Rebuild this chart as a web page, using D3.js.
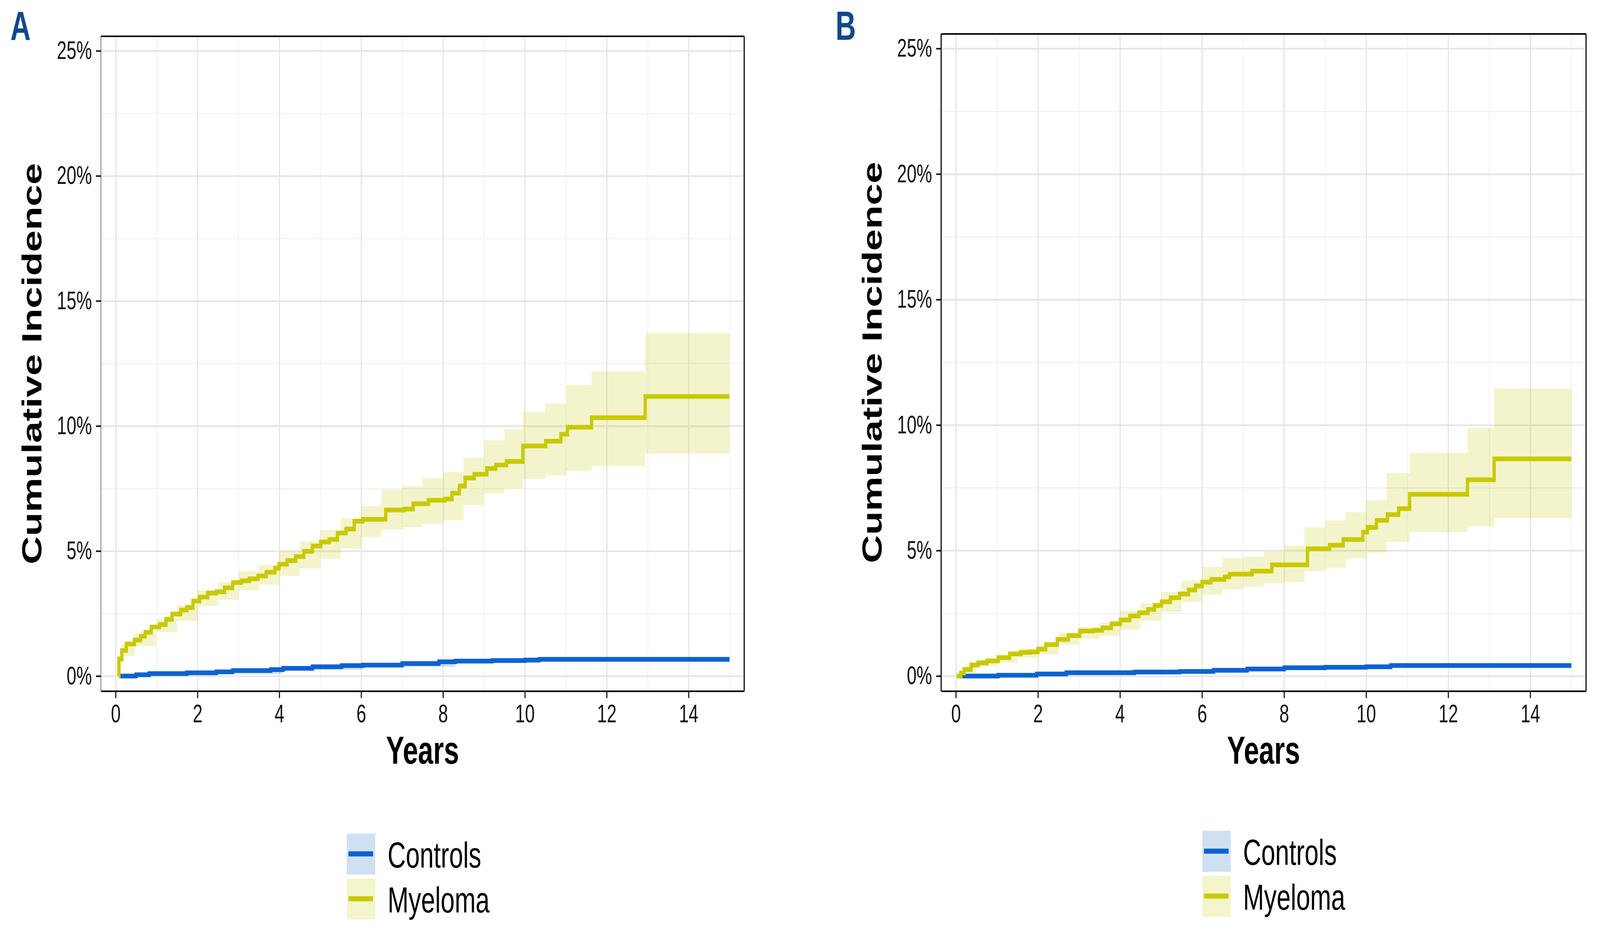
<!DOCTYPE html>
<html>
<head>
<meta charset="utf-8">
<script src="https://cdn.jsdelivr.net/npm/d3@7"></script>
<style>
  html, body { margin: 0; padding: 0; background: #fff; overflow: hidden; }
  #chart svg { display: block; width: 100vw; height: 100vh; }
  svg text { font-family: "Liberation Sans", Arial, Helvetica, sans-serif; }
</style>
</head>
<body>
<div id="chart"></div>
<script>
// ---- data (years, cumulative incidence in %) ----
// panel A: step curves [time, value]
const myelomaA = [
  [0.077, 0], [0.08, 0.68], [0.15, 1.02], [0.26, 1.28], [0.46, 1.44], [0.61, 1.59],
  [0.72, 1.75], [0.87, 1.96], [1.07, 2.06], [1.23, 2.27], [1.38, 2.48], [1.59, 2.64],
  [1.74, 2.74], [1.89, 3.0], [2.05, 3.16], [2.25, 3.32], [2.46, 3.37], [2.66, 3.53],
  [2.86, 3.74], [3.07, 3.81], [3.27, 3.89], [3.48, 4.0], [3.68, 4.15], [3.89, 4.31],
  [3.99, 4.47], [4.19, 4.62], [4.4, 4.78], [4.6, 4.99], [4.81, 5.2], [5.01, 5.36],
  [5.22, 5.46], [5.42, 5.72], [5.63, 5.88], [5.83, 6.19], [6.04, 6.27], [6.6, 6.64],
  [7.05, 6.68], [7.27, 6.89], [7.64, 7.03], [8.05, 7.08], [8.22, 7.31], [8.4, 7.6],
  [8.54, 7.92], [8.76, 8.07], [9.07, 8.3], [9.29, 8.44], [9.55, 8.58], [9.95, 9.2],
  [10.51, 9.39], [10.88, 9.67], [11.04, 9.95], [11.63, 10.33], [12.94, 11.18], [15.0, 11.18]
];
// confidence band [time, lower, upper]
const myelomaBandA = [
  [0.077, 0, 0], [0.08, 0.5, 0.9], [0.15, 0.8, 1.25], [0.46, 1.2, 1.7], [1.0, 1.75, 2.3],
  [1.5, 2.2, 2.85], [2.0, 2.8, 3.42], [2.5, 3.05, 3.75], [3.0, 3.42, 4.2], [3.5, 3.65, 4.45],
  [4.0, 4.0, 4.99], [4.5, 4.3, 5.4], [5.0, 4.68, 5.83], [5.5, 5.1, 6.3], [6.0, 5.56, 6.8],
  [6.5, 5.85, 7.45], [7.0, 5.95, 7.6], [7.5, 6.08, 7.92], [8.0, 6.23, 8.16], [8.5, 6.84, 8.73],
  [9.0, 7.31, 9.43], [9.5, 7.5, 9.86], [9.95, 7.88, 10.57], [10.5, 8.02, 10.9],
  [11.01, 8.2, 11.64], [11.63, 8.4, 12.18], [12.94, 8.9, 13.72], [15.0, 8.9, 13.72]
];
const controlsA = [
  [0.08, 0], [0.5, 0.05], [0.82, 0.1], [1.74, 0.13], [2.46, 0.17], [2.86, 0.22],
  [3.79, 0.26], [4.09, 0.31], [4.81, 0.37], [5.52, 0.42], [6.04, 0.44], [7.0, 0.5],
  [7.9, 0.57], [8.3, 0.6], [9.2, 0.62], [10.0, 0.64], [10.35, 0.67], [15.0, 0.67]
];
const controlsBandA = [
  [0.08, 0, 0.02], [1.74, 0.09, 0.17], [4.09, 0.25, 0.37], [6.04, 0.37, 0.51],
  [8.3, 0.52, 0.69], [10.35, 0.58, 0.77], [15.0, 0.58, 0.77]
];

// panel B
const myelomaB = [
  [0.02, 0], [0.12, 0.12], [0.2, 0.26], [0.37, 0.44], [0.54, 0.52], [0.76, 0.6], [1.03, 0.73],
  [1.31, 0.88], [1.58, 0.94], [1.81, 0.96], [2.0, 1.07], [2.19, 1.25], [2.47, 1.46],
  [2.74, 1.61], [3.02, 1.79], [3.35, 1.82], [3.57, 1.92], [3.79, 2.08], [4.01, 2.23],
  [4.24, 2.39], [4.46, 2.52], [4.68, 2.65], [4.84, 2.81], [5.01, 2.96], [5.23, 3.12],
  [5.45, 3.27], [5.67, 3.43], [5.84, 3.59], [6.0, 3.74], [6.22, 3.85], [6.55, 3.95],
  [6.67, 4.06], [7.22, 4.18], [7.7, 4.43], [8.57, 5.07], [9.11, 5.21], [9.44, 5.44],
  [9.92, 5.73], [10.03, 5.92], [10.25, 6.2], [10.52, 6.43], [10.79, 6.67], [11.06, 7.24],
  [12.47, 7.82], [13.12, 8.65], [15.0, 8.65]
];
const myelomaBandB = [
  [0.02, 0, 0], [0.2, 0.12, 0.4], [0.5, 0.39, 0.66], [1.0, 0.52, 0.85], [1.5, 0.74, 1.1],
  [2.0, 0.86, 1.25], [2.5, 1.25, 1.72], [3.0, 1.48, 1.95], [3.5, 1.6, 2.12], [4.0, 1.85, 2.6],
  [4.5, 2.2, 2.9], [5.0, 2.55, 3.35], [5.5, 2.95, 3.8], [6.0, 3.25, 4.35], [6.5, 3.45, 4.7],
  [7.0, 3.55, 4.75], [7.5, 3.7, 4.95], [8.0, 3.75, 5.2], [8.5, 4.17, 5.92], [9.0, 4.31, 6.2],
  [9.5, 4.69, 6.53], [10.0, 4.92, 7.0], [10.5, 5.35, 8.08], [11.06, 5.73, 8.89],
  [12.47, 5.96, 9.88], [13.12, 6.29, 11.45], [15.0, 6.29, 11.45]
];
const controlsB = [
  [0.1, 0], [1.03, 0.03], [1.97, 0.08], [2.69, 0.13], [4.35, 0.16], [5.45, 0.18],
  [6.28, 0.23], [7.1, 0.28], [8.0, 0.33], [9.0, 0.35], [10.0, 0.37], [10.6, 0.42], [15.0, 0.42]
];
const controlsBandB = [
  [0.1, 0, 0.02], [1.97, 0.05, 0.11], [4.35, 0.12, 0.2], [6.28, 0.18, 0.28],
  [8.0, 0.27, 0.39], [10.6, 0.35, 0.5], [15.0, 0.35, 0.5]
];

// axes / labels
const xTicks = [0, 2, 4, 6, 8, 10, 12, 14];
const xMinor = [1, 3, 5, 7, 9, 11, 13, 15];
const yTicks = [0, 5, 10, 15, 20, 25];
const yMinor = [2.5, 7.5, 12.5, 17.5, 22.5];
const groups = ["Controls", "Myeloma"];
const colors = { Controls: "#0b62d1", Myeloma: "#c9c900" };
const fills = { Controls: "#d0e0f3", Myeloma: "#f5f5cc" };

const xDomain = [-0.36, 15.36];
const yDomain = [-0.6, 25.58];

// figure drawn in 5850x2405 units, stretched to fill the window exactly
const svg = d3.select("#chart").append("svg")
  .attr("viewBox", "0 0 5850 2405")
  .attr("preserveAspectRatio", "none");

// panel boxes (pixels)
const panels = [
  { tag: "A", left: 369, right: 2721, top: 93, bottom: 1770, leftEdge: "#666", leftW: 2.5,
    tagX: 38, legX: 1268, legY: 2135,
    myeloma: myelomaA, myelomaBand: myelomaBandA, controls: controlsA, controlsBand: controlsBandA },
  { tag: "B", left: 3441, right: 5799, top: 87, bottom: 1770, leftEdge: "#000", leftW: 4,
    tagX: 3055, legX: 4396, legY: 2128,
    myeloma: myelomaB, myelomaBand: myelomaBandB, controls: controlsB, controlsBand: controlsBandB }
];

function gridCall(sel, color, width) {
  sel.select(".domain").remove();
  sel.selectAll("text").remove();
  sel.selectAll("line").attr("stroke", color).attr("stroke-width", width);
}

function drawPanel(p) {
  const g = svg.append("g");
  const x = d3.scaleLinear().domain(xDomain).range([p.left, p.right]);
  const y = d3.scaleLinear().domain(yDomain).range([p.bottom, p.top]);
  const h = p.bottom - p.top, w = p.right - p.left;

  // grid lines (minor first)
  g.append("g").attr("transform", `translate(0,${p.bottom})`)
    .call(d3.axisBottom(x).tickValues(xMinor).tickSize(-h))
    .call(s => gridCall(s, "#f1f1f1", 3));
  g.append("g").attr("transform", `translate(${p.left},0)`)
    .call(d3.axisLeft(y).tickValues(yMinor).tickSize(-w))
    .call(s => gridCall(s, "#f1f1f1", 3));
  g.append("g").attr("transform", `translate(0,${p.bottom})`)
    .call(d3.axisBottom(x).tickValues(xTicks).tickSize(-h))
    .call(s => gridCall(s, "#e6e6e6", 4.5));
  g.append("g").attr("transform", `translate(${p.left},0)`)
    .call(d3.axisLeft(y).tickValues(yTicks).tickSize(-w))
    .call(s => gridCall(s, "#e6e6e6", 4.5));

  // bands then step lines
  const area = d3.area().curve(d3.curveStepAfter)
    .x(d => x(d[0])).y0(d => y(d[1])).y1(d => y(d[2]));
  const line = d3.line().curve(d3.curveStepAfter)
    .x(d => x(d[0])).y(d => y(d[1]));

  g.append("path").datum(p.controlsBand).attr("d", area)
    .attr("fill", colors.Controls).attr("fill-opacity", 0.2);
  g.append("path").datum(p.myelomaBand).attr("d", area)
    .attr("fill", colors.Myeloma).attr("fill-opacity", 0.2);
  g.append("path").datum(p.controls).attr("d", line)
    .attr("fill", "none").attr("stroke", colors.Controls).attr("stroke-width", 12);
  g.append("path").datum(p.myeloma).attr("d", line)
    .attr("fill", "none").attr("stroke", colors.Myeloma).attr("stroke-width", 12);

  // panel border
  g.append("line").attr("x1", p.left).attr("x2", p.right).attr("y1", p.top).attr("y2", p.top)
    .attr("stroke", "#000").attr("stroke-width", 4);
  g.append("line").attr("x1", p.right).attr("x2", p.right).attr("y1", p.top).attr("y2", p.bottom)
    .attr("stroke", "#000").attr("stroke-width", 4);
  g.append("line").attr("x1", p.left).attr("x2", p.left).attr("y1", p.top).attr("y2", p.bottom)
    .attr("stroke", p.leftEdge).attr("stroke-width", p.leftW);

  // axes
  const xAxis = g.append("g").attr("transform", `translate(0,${p.bottom})`)
    .call(d3.axisBottom(x).tickValues(xTicks).tickSize(18).tickPadding(17).tickSizeOuter(0));
  const yAxis = g.append("g").attr("transform", `translate(${p.left},0)`)
    .call(d3.axisLeft(y).tickValues(yTicks).tickSize(18).tickPadding(15).tickSizeOuter(0)
      .tickFormat(d => d + "%"));
  [xAxis, yAxis].forEach(a => {
    a.attr("font-family", null).attr("font-size", null);
    a.selectAll("text").style("font-size", "64px").attr("fill", "#111");
    a.selectAll(".tick line").attr("stroke", "#111").attr("stroke-width", 4);
  });
  xAxis.select(".domain").attr("stroke", "#000").attr("stroke-width", 4);
  yAxis.select(".domain").remove();

  // axis titles
  g.append("text")
    .attr("x", (p.left + p.right) / 2).attr("y", 1956)
    .attr("text-anchor", "middle")
    .style("font-size", "100px").style("font-weight", "bold")
    .text("Years");
  g.append("text")
    .attr("transform", `translate(${p.left - 217},${(p.top + p.bottom) / 2}) rotate(-90)`)
    .attr("text-anchor", "middle")
    .style("font-size", "100px").style("font-weight", "bold")
    .text("Cumulative Incidence");

  // panel tag
  g.append("text")
    .attr("x", p.tagX).attr("y", 102)
    .style("font-size", "103px").style("font-weight", "bold")
    .attr("fill", "#10498b")
    .text(p.tag);

  // legend
  const leg = g.append("g").attr("transform", `translate(${p.legX},${p.legY})`);
  groups.forEach((grp, i) => {
    const row = leg.append("g").attr("transform", `translate(0,${i * 115})`);
    row.append("rect").attr("width", 104).attr("height", 105).attr("fill", fills[grp]);
    row.append("line").attr("x1", 6).attr("x2", 96).attr("y1", 52).attr("y2", 52)
      .attr("stroke", colors[grp]).attr("stroke-width", 13);
    row.append("text").attr("x", 149).attr("y", 87)
      .style("font-size", "92px").attr("fill", "#000")
      .text(grp);
  });
}

panels.forEach(drawPanel);
</script>
</body>
</html>
